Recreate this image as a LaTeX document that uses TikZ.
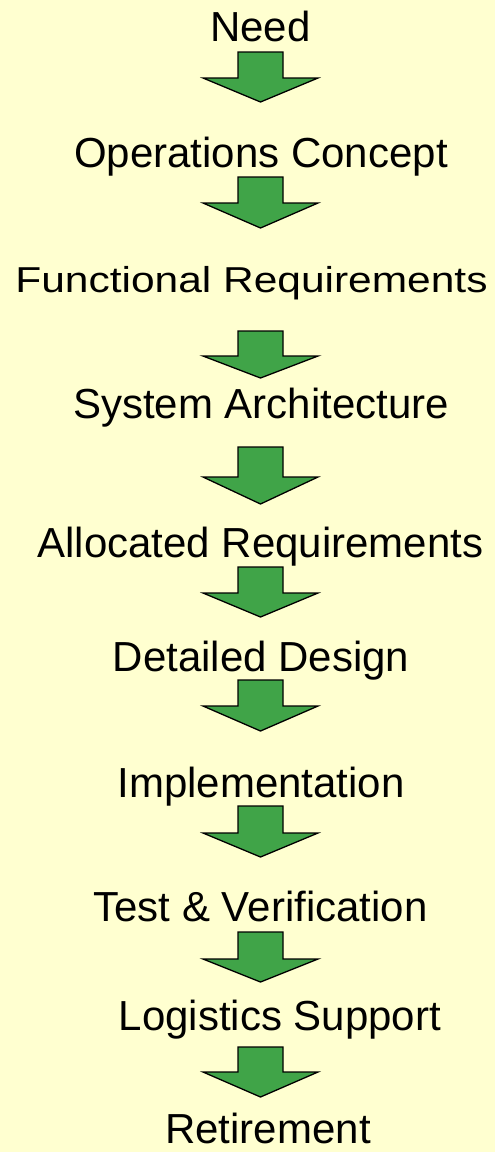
\documentclass[tikz,border=0pt]{standalone}
\usepackage{fontspec}
\setmainfont{Liberation Sans}
\definecolor{paper}{RGB}{255,255,208}
\definecolor{leaf}{RGB}{64,164,72}
\begin{document}
\begin{tikzpicture}[x=1pt,y=-1pt,
  stage/.style={anchor=base, inner sep=0pt, font=\fontsize{42}{50}\selectfont},
  flowarrow/.style={fill=leaf, draw=black, line width=1.3pt, line join=miter},
  % block arrow pointing down: #1 = depth of the shoulder, #2 = depth of the tip
  pics/downarrow/.style 2 args={code={
    \path[flowarrow] (-22.5,0) -- (22.5,0) -- (22.5,#1) -- (57.5,#1)
      -- (0,#2) -- (-57.5,#1) -- (-22.5,#1) -- cycle;
  }}
]
\fill[paper] (0,0) rectangle (495,1152);
\useasboundingbox (0,0) rectangle (495,1152);

% life-cycle stages
\node[stage] (need)  at (260.5,41)   {Need};
\node[stage] (ops)   at (261,167)    {Operations Concept};
\node[stage, font=\fontsize{36}{44}\selectfont] (func) at (251.5,292)
  {\scalebox{1.18}[1]{Functional Requirements}};
\node[stage] (sys)   at (261,418)    {System Architecture};
\node[stage] (alloc) at (260.5,557)  {Allocated Requirements};
\node[stage] (det)   at (261,671)    {Detailed Design};
\node[stage] (impl)  at (261,797)    {Implementation};
\node[stage] (test)  at (260.5,921)  {Test \& Verification};
\node[stage] (logi)  at (280,1030)   {Logistics Support};
\node[stage] (ret)   at (268,1143)   {Retirement};

% arrow anchors between stages
\coordinate (a1) at (260.5,52);
\coordinate (a2) at (260.5,177);
\coordinate (a3) at (260.5,331);
\coordinate (a4) at (260.5,447);
\coordinate (a5) at (260.5,567);
\coordinate (a6) at (260.5,680);
\coordinate (a7) at (260.5,806);
\coordinate (a8) at (260.5,932);
\coordinate (a9) at (260.5,1047);

\pic at (a1) {downarrow={26}{50}};
\pic at (a2) {downarrow={26}{51}};
\pic at (a3) {downarrow={25}{47}};
\pic at (a4) {downarrow={30}{57}};
\pic at (a5) {downarrow={26}{50}};
\pic at (a6) {downarrow={26}{51}};
\pic at (a7) {downarrow={27}{51}};
\pic at (a8) {downarrow={27}{50}};
\pic at (a9) {downarrow={25}{50}};
\end{tikzpicture}
\end{document}
